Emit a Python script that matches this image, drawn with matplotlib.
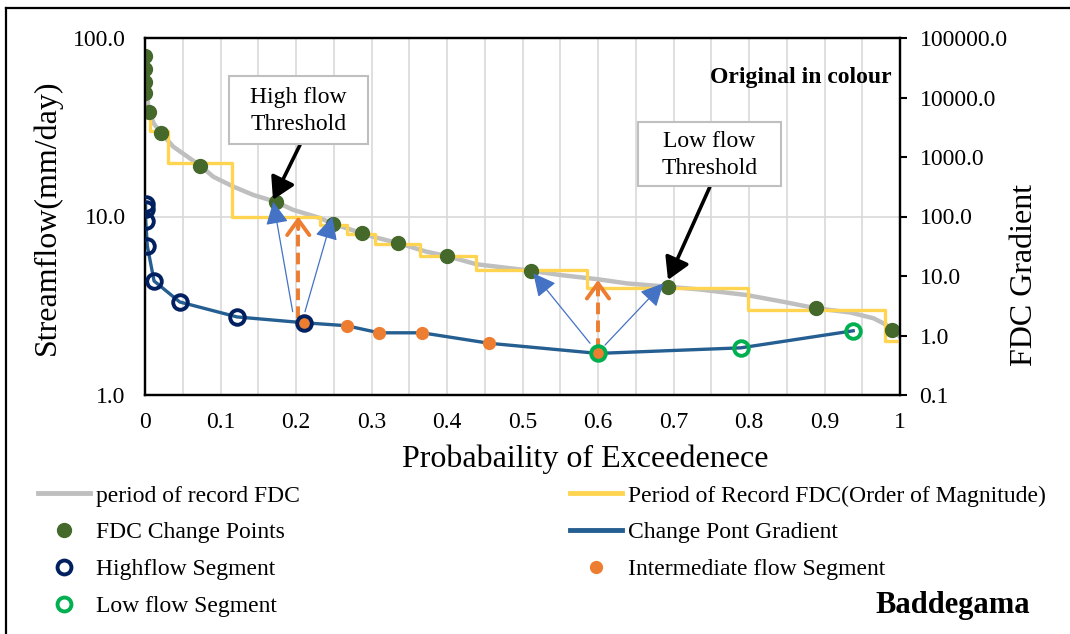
import matplotlib
matplotlib.use("Agg")
import matplotlib.pyplot as plt
from matplotlib.lines import Line2D
from matplotlib.patches import Rectangle
from matplotlib.ticker import FixedLocator, NullLocator

plt.rcParams['font.family'] = ['Liberation Serif', 'DejaVu Serif']

# period of record flow duration curve
fdc_p = [0.0, 0.001, 0.003, 0.005, 0.012, 0.021, 0.0375, 0.073, 0.0905, 0.117, 0.1435, 0.173,
         0.196, 0.232, 0.249, 0.267, 0.287, 0.302, 0.335, 0.373, 0.40, 0.439, 0.511, 0.55,
         0.60, 0.638, 0.693, 0.735, 0.797, 0.845, 0.889, 0.934, 0.965, 0.982, 0.989, 1.0]
fdc_q = [80, 62, 47, 38.5, 33, 29.5, 24.6, 19.3, 16.7, 14.7, 13.2, 12.1,
         10.9, 9.8, 9.1, 8.6, 8.05, 7.7, 7.1, 6.35, 6.0, 5.4, 4.97, 4.7,
         4.45, 4.22, 4.04, 3.9, 3.63, 3.33, 3.06, 2.9, 2.69, 2.47, 2.31, 2.12]

# order of magnitude steps (edges and levels)
oom_edges = [0.0, 0.007, 0.030, 0.115, 0.232, 0.268, 0.305, 0.364, 0.438, 0.585, 0.799, 0.980, 1.0]
oom_levels = [40, 30, 20, 10, 9, 8, 7, 6, 5, 4, 3, 2]

# change points on the FDC
cp_p = [0.0005, 0.0005, 0.0005, 0.0005, 0.005, 0.021, 0.073, 0.173, 0.249, 0.287,
        0.335, 0.400, 0.511, 0.693, 0.889, 0.989]
cp_q = [79.3, 67, 56.7, 49.2, 38.5, 29.5, 19.3, 12.1, 9.1, 8.05,
        7.1, 6.0, 4.97, 4.04, 3.06, 2.31]

# gradient between change points (right axis)
grad_p = [0.0008, 0.0008, 0.001, 0.003, 0.012, 0.046, 0.122, 0.210,
          0.267, 0.310, 0.367, 0.456, 0.600, 0.789, 0.938]
grad_v = [162, 136, 84, 32.3, 8.24, 3.66, 2.05, 1.64,
          1.46, 1.11, 1.11, 0.74, 0.50, 0.62, 1.2]
high_idx = slice(0, 8)
mid_idx = slice(7, 13)
low_idx = slice(12, 15)

x_ticks = [0, 0.1, 0.2, 0.3, 0.4, 0.5, 0.6, 0.7, 0.8, 0.9, 1]
x_labels = ['0', '0.1', '0.2', '0.3', '0.4', '0.5', '0.6', '0.7', '0.8', '0.9', '1']
left_ticks = [1, 10, 100]
right_ticks = [0.1, 1, 10, 100, 1000, 10000, 100000]

c_gray = '#BFBFBF'
c_yellow = '#FFD451'
c_green = '#44692B'
c_navy = '#002060'
c_orange = '#ED7D31'
c_lgreen = '#00B050'
c_blue = '#255E91'
c_arrow = '#4472C4'

W, H = 1070, 634
fig = plt.figure(figsize=(W / 100, H / 100), dpi=100)


def fx(x):
    return x / W


def fy(y):
    return 1 - y / H


ax = fig.add_axes([fx(145), fy(395), (900 - 145) / W, (395 - 38) / H])
ax2 = ax.twinx()

ax.set_xlim(0, 1)
ax.set_yscale('log')
ax.set_ylim(1, 100)
ax2.set_yscale('log')
ax2.set_ylim(0.1, 100000)

ax.xaxis.set_major_locator(FixedLocator(x_ticks))
ax.set_xticklabels(x_labels)
ax.xaxis.set_minor_locator(FixedLocator([i * 0.05 for i in range(21)]))
ax.yaxis.set_major_locator(FixedLocator(left_ticks))
ax.set_yticklabels(['%.1f' % v for v in left_ticks])
ax.yaxis.set_minor_locator(NullLocator())
ax2.yaxis.set_major_locator(FixedLocator(right_ticks))
ax2.set_yticklabels(['%.1f' % v for v in right_ticks])
ax2.yaxis.set_minor_locator(NullLocator())

ax.grid(True, which='both', axis='x', color='#D9D9D9', lw=1.2)
ax.grid(True, which='major', axis='y', color='#D9D9D9', lw=1.2)
ax.set_axisbelow(True)

ax.tick_params(axis='x', which='both', length=0, pad=12, labelsize=17)
ax.tick_params(axis='y', which='both', length=0, pad=14, labelsize=17)
ax2.tick_params(axis='y', length=5, width=1.5, pad=9, labelsize=17)
for a in (ax, ax2):
    for s in a.spines.values():
        s.set_linewidth(1.6)

# FDC, order-of-magnitude steps and change points
ax.plot(fdc_p, fdc_q, color=c_gray, lw=3.2, zorder=2)
ax.step(oom_edges, oom_levels + [oom_levels[-1]], where='post', color=c_yellow, lw=2.4, zorder=3)
ax.plot(cp_p, cp_q, 'o', color=c_green, ms=10, zorder=4)

# gradient line and segments
ax2.plot(grad_p, grad_v, color=c_blue, lw=2.4, zorder=2)
ax2.plot(grad_p[mid_idx], grad_v[mid_idx], 'o', color=c_orange, ms=8.5, zorder=3)
ax2.plot(grad_p[high_idx], grad_v[high_idx], 'o', mfc='none', mec=c_navy, mew=2.8, ms=10.5, zorder=4)
ax2.plot(grad_p[low_idx], grad_v[low_idx], 'o', mfc='none', mec=c_lgreen, mew=2.8, ms=10.5, zorder=4)


def arrow(x0, y0, x1, y1, **kw):
    props = dict(shrinkA=0, shrinkB=0)
    props.update(kw)
    return ax.annotate('', xy=(x1, y1), xytext=(x0, y0), arrowprops=props, zorder=6)


# thin blue arrows from the thresholds to the FDC
blue = dict(arrowstyle='-|>,head_length=0.7,head_width=0.35', color=c_arrow, lw=0.9, mutation_scale=20)
arrow(0.1956, 2.93, 0.1699, 12.1, **blue)
arrow(0.2119, 2.93, 0.2481, 9.97, **blue)
arrow(0.5894, 1.95, 0.5143, 4.81, **blue)
arrow(0.6093, 1.905, 0.6865, 4.22, **blue)

# dashed orange arrows
for xa, y0, y1 in [(0.203, 2.7, 10.0), (0.600, 1.79, 4.41)]:
    ax.plot([xa, xa], [y0, y1 * 0.93], ls=(0, (3, 1.6)), color=c_orange, lw=2.8, zorder=5)
    arrow(xa, y1 * 0.85, xa, y1, arrowstyle='->,head_length=0.55,head_width=0.4',
          color=c_orange, lw=2.8, mutation_scale=20)

# threshold call-outs
black = dict(arrowstyle='-|>,head_length=0.6,head_width=0.35', color='black', lw=2.6, mutation_scale=22)
arrow(0.2053, 25.2, 0.1695, 12.4, **black)
arrow(0.748, 14.6, 0.6927, 4.41, **black)

for (l, t, r, b), label in [((229, 76, 368, 144), 'High flow\nThreshold'),
                            ((638, 122, 781, 186), 'Low flow\nThreshold')]:
    ax.add_patch(Rectangle((fx(l), fy(b)), (r - l) / W, (b - t) / H, transform=fig.transFigure,
                           fc='white', ec='#BFBFBF', lw=1.5, zorder=7))
    ax.text(fx((l + r) / 2), fy((t + b) / 2 + 1), label, transform=fig.transFigure, ha='center',
            va='center', fontsize=17, linespacing=1.4, zorder=8)

fig.text(fx(892), fy(78), 'Original in colour', ha='right', va='center', fontsize=17,
         fontweight='bold')

# axis titles
fig.text(fx(47), fy(217), 'Streamflow(mm/day)', rotation=90, ha='center', va='center', fontsize=23)
fig.text(fx(1025), fy(275), 'FDC Gradient', rotation=90, ha='center', va='center', fontsize=23)
fig.text(fx(585), fy(459), 'Probabaility of Exceedenece', ha='center', va='center', fontsize=23)

# legend
h_fdc = Line2D([], [], color=c_gray, lw=3.5)
h_oom = Line2D([], [], color=c_yellow, lw=3.5)
h_cp = Line2D([], [], ls='none', marker='o', color=c_green, ms=10)
h_grad = Line2D([], [], color=c_blue, lw=3.5)
h_high = Line2D([], [], ls='none', marker='o', mfc='none', mec=c_navy, mew=2.8, ms=10)
h_mid = Line2D([], [], ls='none', marker='o', color=c_orange, ms=8.5)
h_low = Line2D([], [], ls='none', marker='o', mfc='none', mec=c_lgreen, mew=2.8, ms=10)

leg_kw = dict(frameon=False, fontsize=17, borderpad=0, borderaxespad=0, handlelength=2.2,
              handletextpad=0.25, labelspacing=0.65, loc='upper left',
              bbox_transform=fig.transFigure)
fig.legend([h_fdc, h_cp, h_high, h_low],
           ['period of record FDC', 'FDC Change Points', 'Highflow Segment', 'Low flow Segment'],
           bbox_to_anchor=(fx(38), fy(485)), **leg_kw)
fig.legend([h_oom, h_grad, h_mid],
           ['Period of Record FDC(Order of Magnitude)', 'Change Pont Gradient',
            'Intermediate flow Segment'],
           bbox_to_anchor=(fx(570), fy(485)), **leg_kw)

fig.text(fx(953), fy(605), 'Baddegama', ha='center', va='center', fontsize=22, fontweight='bold')

# outer frame
fig.add_artist(Line2D([fx(5.5), fx(5.5)], [fy(8), 0], color='black', lw=1.6))
fig.add_artist(Line2D([fx(5.5), 1], [fy(8), fy(8)], color='black', lw=1.6))

fig.savefig('out.png', dpi=100)
